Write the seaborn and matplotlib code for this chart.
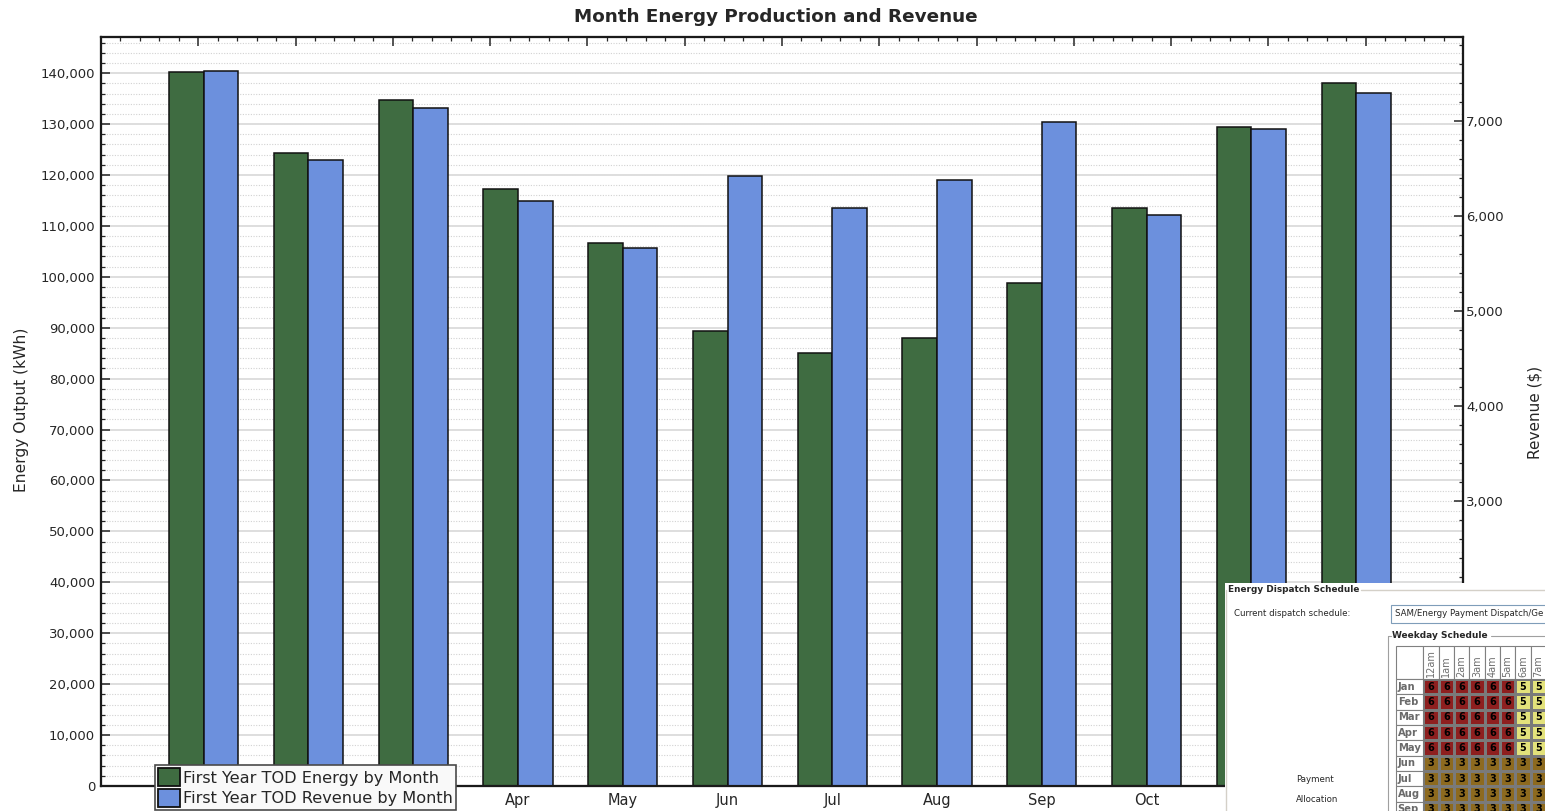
import matplotlib
matplotlib.use("Agg")
import matplotlib.pyplot as plt
from matplotlib.colors import ListedColormap
from matplotlib.patches import Rectangle, Patch
from matplotlib.ticker import MultipleLocator, FuncFormatter
import numpy as np
import pandas as pd
import seaborn as sns

# ---- monthly production / revenue ----
MONTHS = ["Jan", "Feb", "Mar", "Apr", "May", "Jun",
          "Jul", "Aug", "Sep", "Oct", "Nov", "Dec"]
ENERGY_KWH = [140300, 124300, 134800, 117200, 106600, 89300,
              85100, 88000, 98800, 113500, 129500, 138000]
REVENUE_USD = [7518, 6589, 7131, 6153, 5660, 6414,
               6076, 6375, 6990, 6005, 6908, 7293]
SERIES = ["First Year TOD Energy by Month", "First Year TOD Revenue by Month"]
SERIES_COLORS = ["#3F6C41", "#6C90DD"]

# ---- weekday dispatch schedule panel ----
SCHEDULE_MONTHS = MONTHS[:9]
SCHEDULE_HOURS = ["12am", "1am", "2am", "3am", "4am", "5am", "6am", "7am"]
WEEKDAY_SCHEDULE = [
    [6, 6, 6, 6, 6, 6, 5, 5],
    [6, 6, 6, 6, 6, 6, 5, 5],
    [6, 6, 6, 6, 6, 6, 5, 5],
    [6, 6, 6, 6, 6, 6, 5, 5],
    [6, 6, 6, 6, 6, 6, 5, 5],
    [3, 3, 3, 3, 3, 3, 3, 3],
    [3, 3, 3, 3, 3, 3, 3, 3],
    [3, 3, 3, 3, 3, 3, 3, 3],
    [3, 3, 3, 3, 3, 3, 3, 3],
]
PERIOD_COLORS = {3: "#8D6A1F", 5: "#E3E27B", 6: "#8E1F1F"}

W, H = 1545, 811
sns.set_style("white")
plt.rcParams["font.family"] = ["DejaVu Sans"]

fig = plt.figure(figsize=(W / 100, H / 100), dpi=100)
fig.patch.set_facecolor("white")


def fx(px):
    return px / W


def fy(py):
    return 1 - py / H


ax = fig.add_axes([fx(101), fy(786), fx(1463) - fx(101), fy(37) - fy(786)])

df = pd.DataFrame({
    "month": MONTHS * 2,
    "series": np.repeat(SERIES, len(MONTHS)),
    "value": ENERGY_KWH + REVENUE_USD,
})
palette = dict(zip(SERIES, SERIES_COLORS))
bar_kw = dict(x="month", y="value", hue="series", order=MONTHS,
              hue_order=SERIES, palette=palette, width=0.66, dodge=True,
              saturation=1, edgecolor="#111111", linewidth=1.1,
              errorbar=None, legend=False)

# energy on the left scale, revenue on the right scale, dodged side by side
sns.barplot(data=df[df["series"] == SERIES[0]], ax=ax, **bar_kw)
ax2 = ax.twinx()
sns.barplot(data=df[df["series"] == SERIES[1]], ax=ax2, **bar_kw)

ax.set_xlim(-0.98, 12.02)
ax.set_ylim(0, 147100)
ax2.set_ylim(0, 7880)
for a in (ax, ax2):
    a.set_xlabel("")
    a.set_ylabel("")

fmt = FuncFormatter(lambda v, p: f"{v:,.0f}")
ax.yaxis.set_major_locator(MultipleLocator(10000))
ax.yaxis.set_minor_locator(MultipleLocator(2000))
ax.yaxis.set_major_formatter(fmt)
ax.tick_params(axis="y", which="major", direction="in", length=6.5, width=1.1,
               pad=4.3, labelsize=9.5, left=True, right=False)
ax.tick_params(axis="y", which="minor", direction="in", length=3.2, width=0.9,
               left=True, right=False)
ax.tick_params(axis="x", length=0, pad=5, labelsize=10.5)

ax.grid(which="major", axis="y", color="#DEDEDE", linewidth=1.4, linestyle="-")
ax.grid(which="minor", axis="y", color="#D2D2D2", linewidth=0.8,
        linestyle=(0, (1, 1.4)))
ax.set_axisbelow(True)

ax2.yaxis.set_major_locator(MultipleLocator(1000))
ax2.yaxis.set_minor_locator(MultipleLocator(200))
ax2.yaxis.set_major_formatter(fmt)
ax2.tick_params(axis="y", which="major", direction="in", length=6.5, width=1.1,
                pad=2.2, labelsize=9.5, right=True, left=False)
ax2.tick_params(axis="y", which="minor", direction="in", length=3.2, width=0.9,
                right=True, left=False)

# plain tick ruler along the top edge
top = ax.twiny()
top.set_xlim(0, 14)
top.xaxis.set_major_locator(MultipleLocator(1))
top.xaxis.set_minor_locator(MultipleLocator(0.2))
top.tick_params(axis="x", which="major", direction="in", length=6.5, width=1.1,
                top=True, bottom=False, labeltop=False, labelbottom=False)
top.tick_params(axis="x", which="minor", direction="in", length=3.2, width=0.9,
                top=True, bottom=False)

for a in (ax, ax2, top):
    for s in a.spines.values():
        s.set_color("#1A1A1A")
        s.set_linewidth(1.5)

fig.text(fx(776), fy(17), "Month Energy Production and Revenue",
         ha="center", va="center", fontsize=13.2, weight="bold")
fig.text(fx(22), fy(410), "Energy Output (kWh)", rotation=90,
         ha="center", va="center", fontsize=11.2)
fig.text(fx(1535), fy(412), "Revenue ($)", rotation=90,
         ha="center", va="center", fontsize=11)

handles = [Patch(facecolor=c, edgecolor="#111111", linewidth=1.3)
           for c in SERIES_COLORS]
leg = fig.legend(handles, SERIES, loc="lower left",
                 bbox_to_anchor=(fx(155), fy(810)), fontsize=11.6,
                 frameon=True, fancybox=False, framealpha=1,
                 edgecolor="#4A4A4A", facecolor="#F9F9F9", borderpad=0.2,
                 labelspacing=0.15, handlelength=1.35, handleheight=1.35,
                 handletextpad=0.2, borderaxespad=0)
leg.get_frame().set_linewidth(1.2)

# ---- dispatch schedule panel (pixel coordinates) ----
ui = fig.add_axes([fx(1225), 0, fx(1545) - fx(1225), fy(583)])
ui.set_xlim(1225, 1545)
ui.set_ylim(811, 583)
ui.axis("off")
ui.add_patch(Rectangle((1225, 583), 320, 228, facecolor="white",
                       edgecolor="none", zorder=0))
box_line = dict(color="#D4D0C8", lw=1)
ui.plot([1226, 1226], [590, 811], **box_line)
ui.plot([1361, 1545], [590, 590], **box_line)
ui.text(1228, 589, "Energy Dispatch Schedule", weight="bold", fontsize=6.4,
        ha="left", va="center")
ui.text(1234, 614, "Current dispatch schedule:", fontsize=6.2, va="center")
ui.add_patch(Rectangle((1391, 605), 160, 18, facecolor="white",
                       edgecolor="#7F9DB9", lw=0.8))
ui.text(1395, 614, "SAM/Energy Payment Dispatch/Ge", fontsize=6.2, va="center")
inner_line = dict(color="#A0A0A0", lw=0.8)
ui.plot([1388, 1388], [636, 811], **inner_line)
ui.plot([1388, 1391], [636, 636], **inner_line)
ui.plot([1491, 1545], [636, 636], **inner_line)
ui.text(1392, 636, "Weekday Schedule", weight="bold", fontsize=6.5, va="center")
ui.text(1296, 780, "Payment", fontsize=6.2, va="center")
ui.text(1296, 799, "Allocation", fontsize=6.2, va="center")

cell = 46 / 3
grid_left, cells_left = 1395.7, 1423.3
header_top, header_bottom = 646, 679
cell_edge = dict(facecolor="white", edgecolor="#808080", lw=0.8)
ui.add_patch(Rectangle((grid_left, header_top), cells_left - grid_left,
                       header_bottom - header_top, **cell_edge))
for i, hour in enumerate(SCHEDULE_HOURS):
    x0 = cells_left + i * cell
    ui.add_patch(Rectangle((x0, header_top), cell,
                           header_bottom - header_top, **cell_edge))
    ui.text(x0 + cell / 2, header_bottom - 2, hour, rotation=90, ha="center",
            va="bottom", fontsize=7, color="#707070")
for j, m in enumerate(SCHEDULE_MONTHS):
    y0 = header_bottom + j * cell
    ui.add_patch(Rectangle((grid_left, y0), cells_left - grid_left, cell,
                           **cell_edge))
    ui.text(grid_left + 2, y0 + cell / 2, m, ha="left", va="center",
            fontsize=7.2, weight="bold", color="#6A6A6A")

n_rows, n_cols = len(SCHEDULE_MONTHS), len(SCHEDULE_HOURS)
hm = fig.add_axes([fx(cells_left), fy(header_bottom + n_rows * cell),
                   n_cols * cell / W, n_rows * cell / H])
period_levels = list(range(3, 7))
cmap = ListedColormap([PERIOD_COLORS.get(k, "#C0C0C0") for k in period_levels])
sched = pd.DataFrame(WEEKDAY_SCHEDULE, index=SCHEDULE_MONTHS,
                     columns=SCHEDULE_HOURS)
sns.heatmap(sched, ax=hm, cmap=cmap, vmin=2.5, vmax=6.5, annot=True, fmt="d",
            annot_kws=dict(color="black", weight="bold", fontsize=7),
            linewidths=0.8, linecolor="#7A7A7A", cbar=False,
            xticklabels=False, yticklabels=False)
hm.set_xlabel("")
hm.set_ylabel("")

fig.savefig("out.png", dpi=100)
